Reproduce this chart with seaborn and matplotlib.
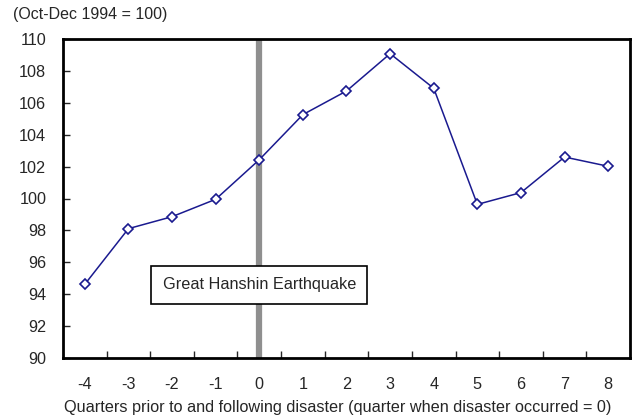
import matplotlib
matplotlib.use("Agg")
import matplotlib.pyplot as plt
import seaborn as sns
import pandas as pd
from matplotlib.ticker import FixedLocator

quarters = [-4, -3, -2, -1, 0, 1, 2, 3, 4, 5, 6, 7, 8]
index_values = [94.62, 98.11, 98.86, 99.95, 102.43, 105.26, 106.74,
                109.08, 106.91, 99.63, 100.37, 102.60, 102.02]
y_ticks = [90, 92, 94, 96, 98, 100, 102, 104, 106, 108, 110]
event_quarter = 0
event_label = "Great Hanshin Earthquake"

sns.set_style("white")
plt.rcParams["font.family"] = ["Liberation Sans", "DejaVu Sans"]

FS = 11.7

df = pd.DataFrame({"quarter": quarters, "index": index_values})

fig = plt.figure(figsize=(6.35, 4.18), dpi=100)
ax = fig.add_axes([63 / 635, 1 - 358 / 418, 567 / 635, 319 / 418])

ax.axvline(event_quarter, color="#8f8f8f", lw=4.5, zorder=1)

sns.lineplot(data=df, x="quarter", y="index", ax=ax, color="#1a1a8f",
             lw=1.1, marker="D", markersize=5.5, markerfacecolor="white",
             markeredgecolor="#1a1a8f", markeredgewidth=1.2, zorder=3)

ax.text(event_quarter, 94.6, event_label, ha="center", va="center",
        fontsize=FS, zorder=4,
        bbox=dict(boxstyle="square,pad=0.7", fc="white", ec="black", lw=1.2))

ax.set_xlim(quarters[0] - 0.5, quarters[-1] + 0.5)
ax.set_ylim(90, 110)
ax.set_yticks(y_ticks)
ax.set_xticks(quarters)
ax.set_xticklabels([str(q) for q in quarters])
ax.xaxis.set_minor_locator(FixedLocator([q + 0.5 for q in quarters[:-1]]))

ax.tick_params(axis="x", which="major", length=0, pad=14, labelsize=FS)
ax.tick_params(axis="x", which="minor", direction="in", length=5, width=1,
               bottom=True)
ax.tick_params(axis="y", which="major", direction="in", length=5, width=1,
               pad=12, labelsize=FS, left=True)

for side in ["left", "right", "top", "bottom"]:
    ax.spines[side].set_visible(True)
    ax.spines[side].set_color("black")
    ax.spines[side].set_linewidth(2)

ax.set_xlabel("Quarters prior to and following disaster (quarter when disaster occurred = 0)",
              fontsize=FS)
ax.xaxis.set_label_coords(0.484, -0.133)
ax.set_ylabel("")
fig.text(13 / 635, 1 - 15 / 418, "(Oct-Dec 1994 = 100)", fontsize=11.5,
         ha="left", va="center")

fig.savefig("out.png", dpi=100)
